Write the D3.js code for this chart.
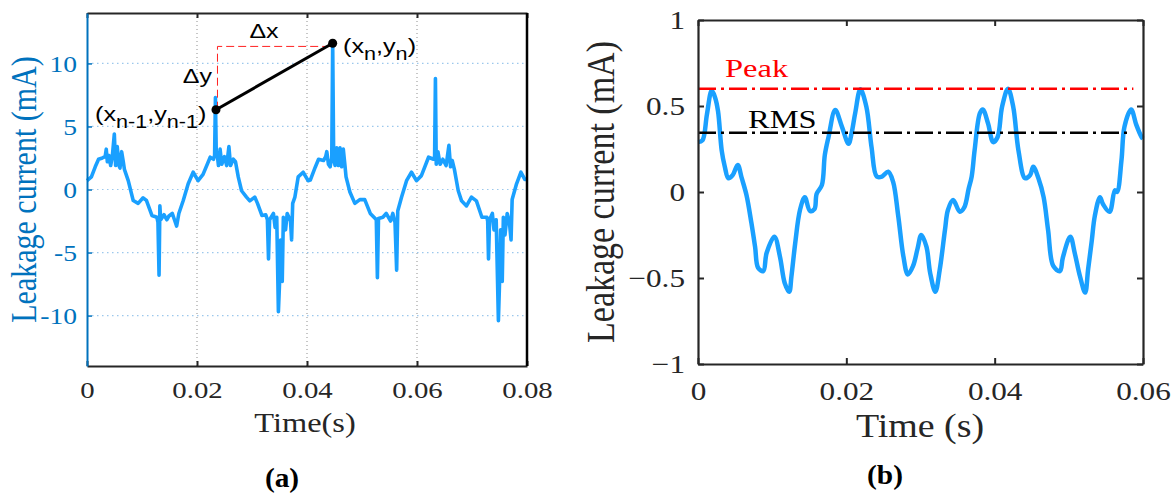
<!DOCTYPE html>
<html><head><meta charset="utf-8">
<script src="https://cdn.jsdelivr.net/npm/d3@7"></script>
<style>body{margin:0;background:#fff} svg{display:block}</style>
</head><body>
<svg id="c" width="1172" height="493"></svg>
<script>
// ---------- data ----------
// (a) leakage current waveform, time in ms, current in mA
const leftTimeMs = [0,0.8,1.5,2.1,2.8,3.3,3.5,3.7,4.0,4.3,4.6,4.97,5.2,5.5,5.8,6.0,6.3,6.6,6.8,7.5,8.4,9.3,10.2,10.8,11.8,12.7,12.9,13.1,13.25,13.4,14.0,14.5,14.9,15.5,15.9,16.3,16.7,17.5,18.4,19.3,20.2,21.1,22.4,23.0,23.2,23.35,23.5,23.7,23.9,24.2,24.5,25.0,25.4,25.8,26.1,26.6,27.0,27.5,28.1,29.0,29.6,30.5,31.0,31.8,32.5,32.8,33.0,33.2,33.9,34.2,34.5,34.8,35.0,35.2,35.5,35.7,36.1,36.4,37.0,37.2,37.4,37.8,38.4,39.3,40.2,40.6,41.5,42.1,43.0,43.4,43.6,43.9,44.2,44.5,44.67,44.85,45.1,45.4,45.7,46.0,46.3,46.6,46.9,47.1,47.8,48.7,49.6,50.5,51.5,52.4,52.6,52.8,53.0,53.8,54.4,55.2,55.6,56.0,56.3,56.5,57.2,58.1,59.0,59.9,60.8,62.1,63.0,63.2,63.35,63.5,63.8,64.2,64.7,65.3,65.8,66.1,66.4,66.8,67.5,68.1,69.0,69.9,70.8,71.8,72.7,72.85,73.0,73.2,73.7,74.0,74.4,74.8,75.0,75.2,75.5,75.7,76.0,76.4,76.8,77.1,77.3,78.1,78.9,79.6,80.0];
const leftCurrent = [0.7,1.0,1.8,2.4,2.5,2.6,3.2,2.2,2.7,1.9,2.6,4.4,1.9,3.4,1.9,1.7,3.0,2.2,1.6,0.7,-0.87,-1.1,-0.66,-0.87,-2.06,-2.2,-2.6,-6.8,-1.3,-2.4,-2.0,-2.4,-2.1,-1.9,-2.4,-2.9,-1.9,-0.87,0.45,1.37,0.7,1.2,2.56,2.4,2.7,7.3,3.0,2.7,1.9,3.2,2.0,2.6,1.9,3.4,1.9,2.4,2.2,1.0,-0.1,-0.6,-0.9,-0.6,-1.1,-2.06,-2.0,-2.4,-5.5,-2.4,-1.9,-3.0,-2.2,-9.7,-7.5,-4.0,-7.3,-2.2,-3.2,-1.9,-2.5,-4.0,-1.1,-0.6,1.0,1.37,0.7,0.75,1.77,2.4,2.3,2.6,3.0,2.0,1.8,2.5,11.6,2.5,1.9,3.3,1.9,3.3,1.8,3.2,1.9,1.0,-0.2,-1.1,-0.8,-0.8,-1.9,-2.3,-2.4,-7.0,-2.3,-2.2,-1.9,-2.5,-1.9,-2.6,-6.4,-1.7,-0.6,0.7,1.37,0.7,1.1,2.56,2.4,2.6,8.8,2.0,3.0,2.0,2.4,1.9,3.5,1.8,2.3,1.6,-0.1,-0.9,-1.3,-0.6,-0.9,-2.2,-2.2,-2.5,-5.5,-2.4,-1.9,-3.2,-2.4,-10.4,-7.5,-3.2,-7.3,-2.2,-3.6,-1.9,-2.6,-4.0,-0.8,0.45,1.37,0.8,0.8];
// (b) filtered leakage current, time in ms, current in mA
const rightTimeMs = [0,0.6,1.2,1.85,2.3,2.7,3.2,3.6,4.1,4.7,5.35,5.9,6.55,7.2,7.7,8.1,8.8,9.25,10.3,11.05,11.7,12.3,12.6,13.1,13.75,14.4,15.1,15.7,16.0,16.7,17.1,17.6,18.5,19.4,20.3,20.7,21.2,21.9,22.7,23.4,24.1,24.8,25.65,26.3,27.0,27.7,28.3,29.0,29.6,30.1,30.8,31.3,32.0,32.6,33.3,33.7,34.4,35.3,35.9,36.5,36.9,37.3,38.0,38.4,39.1,39.8,40.4,41.0,41.8,42.5,43.2,44.1,44.8,45.2,45.9,46.6,47.2,47.9,48.8,49.2,50.2,50.8,51.5,52.2,52.6,53.1,53.5,54.2,54.6,55.5,56.2,56.5,57.1,57.5,58.4,59.1,59.8,60.0];
const rightCurrent = [0.29,0.30,0.45,0.59,0.55,0.47,0.24,0.15,0.08,0.10,0.157,0.08,-0.02,-0.18,-0.32,-0.44,-0.46,-0.355,-0.26,-0.376,-0.53,-0.58,-0.49,-0.30,-0.105,-0.03,-0.11,-0.10,-0.01,0.04,0.215,0.32,0.477,0.38,0.28,0.34,0.46,0.597,0.496,0.26,0.09,0.09,0.118,0.06,-0.14,-0.376,-0.48,-0.43,-0.33,-0.25,-0.318,-0.47,-0.58,-0.45,-0.22,-0.105,-0.047,-0.115,-0.09,0.02,0.09,0.244,0.457,0.48,0.40,0.29,0.32,0.496,0.60,0.496,0.244,0.08,0.10,0.147,0.08,-0.03,-0.22,-0.43,-0.46,-0.38,-0.26,-0.356,-0.49,-0.585,-0.45,-0.28,-0.14,-0.03,-0.07,-0.115,0.01,0.0,0.186,0.38,0.48,0.39,0.32,0.31];

const leftXTicks = [0, 0.02, 0.04, 0.06, 0.08];
const leftXTickLabels = ["0", "0.02", "0.04", "0.06", "0.08"];
const leftYTicks = [-10, -5, 0, 5, 10];
const leftYTickLabels = ["-10", "-5", "0", "5", "10"];
const rightXTicks = [0, 0.02, 0.04, 0.06];
const rightXTickLabels = ["0", "0.02", "0.04", "0.06"];
const rightYTicks = [-1, -0.5, 0, 0.5, 1];
const rightYTickLabels = ["\u22121", "\u22120.5", "0", "0.5", "1"];

// annotated sample points in (a): (x_{n-1}, y_{n-1}) and (x_n, y_n)
const annotTimeS = [0.02345, 0.04467];
const annotCurrent = [6.33, 11.6];
const guideCurrent = 11.35;

// reference levels in (b)
const peakValue = 0.6;
const rmsValue = 0.345;
const peakLineX = [0, 0.0587];
const rmsLineX = [0, 0.058];

// ---------- drawing ----------
const svg = d3.select('#c');
const SERIF = "'Liberation Serif','Times New Roman',serif";
const SANS = "'Liberation Sans',Arial,sans-serif";
const INK = '#262626';
const BLUE_AX = '#0072BD';
const WAVE = '#1aa0ff';
const SX = 1.2;

function txt(x, y, str, o) {
  const sx = o.sx || SX;
  const tr = o.rotate ? `translate(${x},${y}) rotate(${o.rotate}) scale(1,${sx})`
                      : `translate(${x},${y}) scale(${sx},1)`;
  return svg.append('text').attr('transform', tr)
    .attr('text-anchor', o.anchor || 'middle')
    .attr('font-family', o.family || SERIF)
    .attr('font-size', o.size)
    .attr('font-weight', o.weight || 'normal')
    .attr('fill', o.fill || INK)
    .text(str);
}

// ===== (a) =====
const L = {x: 87, y: 13, w: 440, h: 353};
const xL = d3.scaleLinear().domain([0, 0.08]).range([L.x, L.x + L.w]);
const yL = d3.scaleLinear().domain([-14, 14]).range([L.y + L.h, L.y]);

svg.append('g').selectAll('line').data(leftXTicks.slice(1, -1)).join('line')
  .attr('x1', d => xL(d)).attr('x2', d => xL(d)).attr('y1', L.y).attr('y2', L.y + L.h)
  .attr('stroke', '#8f8f8f').attr('stroke-width', 1).attr('stroke-dasharray', '1,3');
svg.append('g').selectAll('line').data(leftYTicks).join('line')
  .attr('x1', L.x).attr('x2', L.x + L.w).attr('y1', d => yL(d)).attr('y2', d => yL(d))
  .attr('stroke', '#9cc8ec').attr('stroke-width', 1.2).attr('stroke-dasharray', '1.5,3.5');

const lineL = d3.line().x((d, i) => xL(leftTimeMs[i] / 1000)).y(d => yL(d));
svg.append('path').datum(leftCurrent).attr('d', lineL)
  .attr('fill', 'none').attr('stroke', WAVE).attr('stroke-width', 3.6).attr('stroke-linejoin', 'round');

// axes
const gLB = svg.append('g').attr('transform', `translate(0,${L.y + L.h})`)
  .call(d3.axisBottom(xL).tickValues(leftXTicks).tickFormat((d, i) => leftXTickLabels[i]).tickSizeInner(-5).tickSizeOuter(0));
const gLT = svg.append('g').attr('transform', `translate(0,${L.y})`)
  .call(d3.axisTop(xL).tickValues(leftXTicks).tickFormat('').tickSizeInner(-5).tickSizeOuter(0));
const gLL = svg.append('g').attr('transform', `translate(${L.x},0)`)
  .call(d3.axisLeft(yL).tickValues(leftYTicks).tickFormat((d, i) => leftYTickLabels[i]).tickSizeInner(-5).tickSizeOuter(0));
[gLB, gLT].forEach(g => {
  g.select('.domain').attr('stroke', INK).attr('stroke-width', 2);
  g.selectAll('.tick line').attr('stroke', INK).attr('stroke-width', 2);
});
gLL.select('.domain').attr('stroke', BLUE_AX).attr('stroke-width', 2);
gLL.selectAll('.tick line').attr('stroke', BLUE_AX).attr('stroke-width', 1.5);
gLB.selectAll('.tick text').attr('y', 0).attr('dy', 0).attr('transform', `translate(0,32) scale(${SX},1)`)
  .attr('font-family', SERIF).attr('font-size', 24).attr('fill', INK);
gLL.selectAll('.tick text').attr('x', 0).attr('dy', '0.33em').attr('transform', `translate(-10,0) scale(${SX},1)`)
  .attr('font-family', SERIF).attr('font-size', 23).attr('fill', BLUE_AX).attr('text-anchor', 'end');
svg.append('line').attr('x1', L.x + L.w).attr('x2', L.x + L.w).attr('y1', L.y).attr('y2', L.y + L.h)
  .attr('stroke', '#000').attr('stroke-width', 2.5);

// annotation
const p1 = [xL(annotTimeS[0]), yL(annotCurrent[0])];
const p2 = [xL(annotTimeS[1]), yL(annotCurrent[1])];
svg.append('path').attr('d', `M${p1[0] + 1.5},${p1[1]}V${yL(guideCurrent)}H${p2[0]}`)
  .attr('fill', 'none').attr('stroke', '#ff2020').attr('stroke-width', 1).attr('stroke-dasharray', '8,4');
svg.append('line').attr('x1', p1[0]).attr('y1', p1[1]).attr('x2', p2[0]).attr('y2', p2[1])
  .attr('stroke', '#000').attr('stroke-width', 3);
svg.append('g').selectAll('circle').data([p1, p2]).join('circle')
  .attr('cx', d => d[0]).attr('cy', d => d[1]).attr('r', 4.5).attr('fill', '#000');

txt(264, 38, '\u0394x', {size: 20, family: SANS, fill: '#000', sx: 1.25});
txt(212, 83, '\u0394y', {size: 20, family: SANS, fill: '#000', sx: 1.25, anchor: 'end'});
function subLabel(x, y, sub) {
  const t = svg.append('text').attr('transform', `translate(${x},${y}) scale(1.2,1)`)
    .attr('font-family', SANS).attr('font-size', 21).attr('fill', '#000');
  t.append('tspan').text('(x');
  t.append('tspan').attr('dy', 7).attr('font-size', 18).text(sub);
  t.append('tspan').attr('dy', -7).text(',y');
  t.append('tspan').attr('dy', 7).attr('font-size', 18).text(sub);
  t.append('tspan').attr('dy', -7).text(')');
}
subLabel(95, 121, 'n-1');
subLabel(343, 53, 'n');

txt(305, 432, 'Time(s)', {size: 27});
txt(36, (L.y + L.y + L.h) / 2, 'Leakage current (mA)', {size: 30, rotate: -90, fill: BLUE_AX});
txt(282, 487, '(a)', {size: 28, weight: 'bold', sx: 1.05, fill: '#000'});

// ===== (b) =====
const R = {x: 698, y: 20, w: 445, h: 344};
const xR = d3.scaleLinear().domain([0, 0.06]).range([R.x, R.x + R.w]);
const yR = d3.scaleLinear().domain([-1, 1]).range([R.y + R.h, R.y]);

const lineR = d3.line().x((d, i) => xR(rightTimeMs[i] / 1000)).y(d => yR(d)).curve(d3.curveCatmullRom.alpha(0.5));
svg.append('path').datum(rightCurrent).attr('d', lineR)
  .attr('fill', 'none').attr('stroke', WAVE).attr('stroke-width', 4.5).attr('stroke-linejoin', 'round');

svg.append('line').attr('x1', xR(peakLineX[0])).attr('x2', xR(peakLineX[1]))
  .attr('y1', yR(peakValue)).attr('y2', yR(peakValue))
  .attr('stroke', '#ff0000').attr('stroke-width', 2.5).attr('stroke-dasharray', '18,5,3,5');
svg.append('line').attr('x1', xR(rmsLineX[0])).attr('x2', xR(rmsLineX[1]))
  .attr('y1', yR(rmsValue)).attr('y2', yR(rmsValue))
  .attr('stroke', '#000').attr('stroke-width', 2.5).attr('stroke-dasharray', '18,5,3,5');
txt(725, 77, 'Peak', {size: 26, anchor: 'start', fill: '#ff0000', sx: 1.25});
txt(748, 128, 'RMS', {size: 26, anchor: 'start', fill: '#000', sx: 1.25});

const gRB = svg.append('g').attr('transform', `translate(0,${R.y + R.h})`)
  .call(d3.axisBottom(xR).tickValues(rightXTicks).tickFormat((d, i) => rightXTickLabels[i]).tickSizeInner(-6).tickSizeOuter(0));
const gRT = svg.append('g').attr('transform', `translate(0,${R.y})`)
  .call(d3.axisTop(xR).tickValues(rightXTicks).tickFormat('').tickSizeInner(-6).tickSizeOuter(0));
const gRL = svg.append('g').attr('transform', `translate(${R.x},0)`)
  .call(d3.axisLeft(yR).tickValues(rightYTicks).tickFormat((d, i) => rightYTickLabels[i]).tickSizeInner(-6).tickSizeOuter(0));
const gRR = svg.append('g').attr('transform', `translate(${R.x + R.w},0)`)
  .call(d3.axisRight(yR).tickValues(rightYTicks).tickFormat('').tickSizeInner(-6).tickSizeOuter(0));
[gRB, gRT, gRL, gRR].forEach(g => {
  g.select('.domain').attr('stroke', INK).attr('stroke-width', 2.2);
  g.selectAll('.tick line').attr('stroke', INK).attr('stroke-width', 2);
});
gRB.selectAll('.tick text').attr('y', 0).attr('dy', 0).attr('transform', `translate(0,36) scale(${SX},1)`)
  .attr('font-family', SERIF).attr('font-size', 26).attr('fill', INK);
gRL.selectAll('.tick text').attr('x', 0).attr('dy', '0.33em').attr('transform', `translate(-13,0) scale(${SX},1)`)
  .attr('font-family', SERIF).attr('font-size', 26).attr('fill', INK).attr('text-anchor', 'end');

txt(920, 437, 'Time (s)', {size: 33, sx: 1.15});
txt(614, (R.y + R.y + R.h) / 2, 'Leakage current (mA)', {size: 34, rotate: -90, sx: 1.15});
txt(885, 484, '(b)', {size: 28, weight: 'bold', sx: 1.05, fill: '#000'});
</script>
</body></html>
